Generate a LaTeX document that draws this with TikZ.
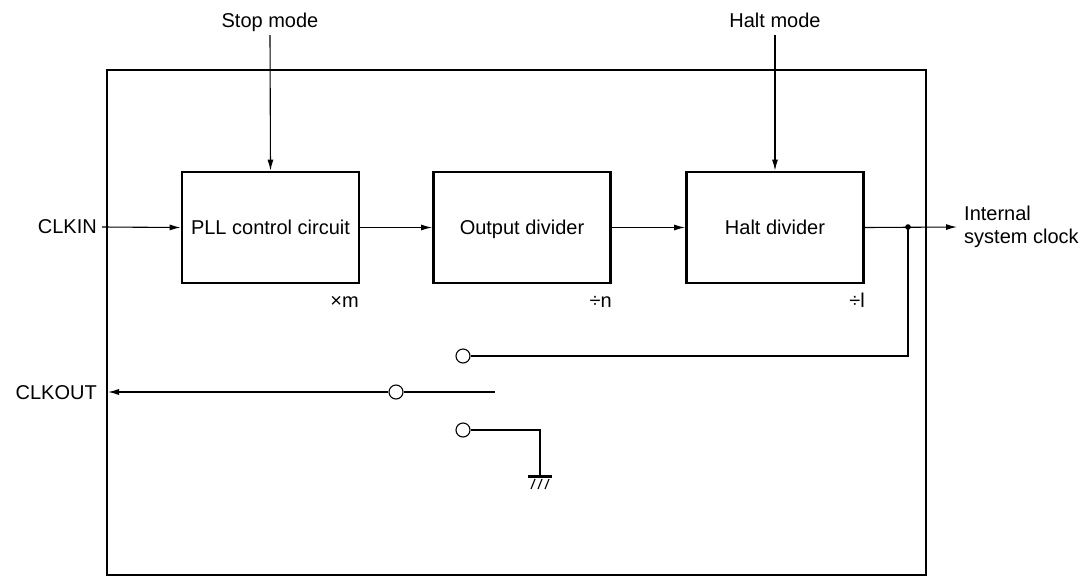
\documentclass[tikz,border=0pt]{standalone}
\usepackage{fontspec}
\setmainfont{Liberation Sans}
\usetikzlibrary{arrows.meta}
\begin{document}
\begin{tikzpicture}[x=1pt,y=-1pt,
  every node/.style={font=\fontsize{20}{23}\selectfont, inner sep=0pt},
  blockbox/.style={draw, line width=2.8pt, minimum width=177pt, minimum height=111pt, anchor=center, text height=14.3pt, text depth=0pt},
  wire/.style={line width=1.1pt},
  arr/.style={wire, -{Latex[length=11pt,width=6pt]}},
  term/.style={draw, circle, line width=1.1pt, minimum size=14pt, fill=white},
  lbl/.style={anchor=base east}
]
\useasboundingbox (0,0) rectangle (1091,576);
% frame
\draw[line width=1.1pt] (107,70) rectangle (926,575);
% blocks
\node[blockbox] (pll) at (270.5,227.5) {PLL control circuit};
\node[blockbox] (odiv) at (522,227.5) {Output divider};
\node[blockbox] (hdiv) at (775,227.5) {Halt divider};
% top labels
\node[anchor=base] (stop) at (270,27) {Stop mode};
\node[anchor=base] (halt) at (775,27) {Halt mode};
\coordinate (stopS) at (270,35);
\coordinate (haltS) at (775,35);
\draw[arr] (stopS) -- (pll.north);
\draw[arr] (haltS) -- (hdiv.north);
% factor labels
\node[lbl] (xm) at (359,307) {×m};
\node[lbl] (dn) at (612,307) {÷n};
\node[lbl] (dl) at (865,307) {÷l};
% input
\node[anchor=base east] (clkin) at (97,233) {CLKIN};
\coordinate (cin) at (102,227);
\draw[arr] (cin) -- (pll.west);
\draw[arr] (pll.east) -- (odiv.west);
\draw[arr] (odiv.east) -- (hdiv.west);
% output
\node[anchor=west, align=left, font=\fontsize{20}{23}\selectfont] (isc) at (964,227) {Internal\\system clock};
\coordinate (iscA) at (957,227);
\coordinate (junc) at (908,227);
\draw[arr] (hdiv.east) -- (iscA);
\fill (junc) circle (2.8pt);
% switch
\node[term] (t1) at (463,356) {};
\node[term] (t0) at (396,392) {};
\node[term] (t2) at (463,430) {};
\coordinate (swend) at (495,392);
\draw[wire] (junc) |- (t1.east);
\draw[wire] (t0.east) -- (swend);
\node[anchor=base east] (clkout) at (97,399) {CLKOUT};
\coordinate (clkoutA) at (108,392);
\draw[arr] (t0.west) -- (clkoutA);
% ground
\coordinate (gnd) at (540,476);
\draw[wire] (t2.east) -| (gnd);
\draw[line width=3pt] (528,476) -- (552,476);
\draw[line width=1.1pt] (535,479) -- (531,489) (542,479) -- (538,489) (549,479) -- (545,489);
\end{tikzpicture}
\end{document}
